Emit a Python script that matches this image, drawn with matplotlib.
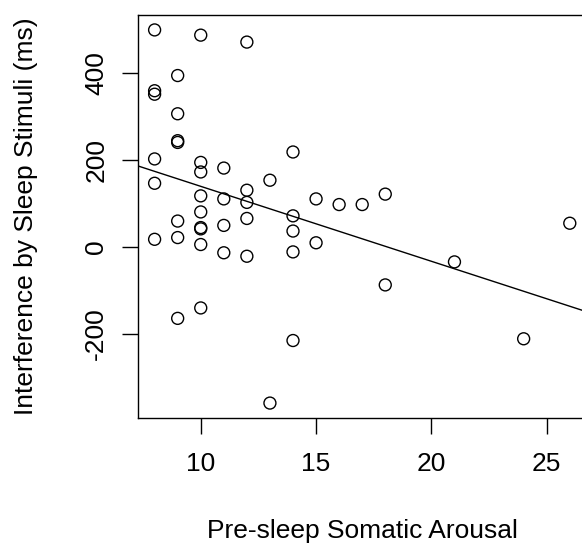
"""
Scatter of sleep-stimulus interference against pre-sleep somatic arousal,
with the least-squares line drawn across the whole plot (R abline style).
"""
import numpy as np
import matplotlib
matplotlib.use("Agg")
import matplotlib.pyplot as plt

OUTPUT = "out.png"

# one entry per participant
AROUSAL = [
    8, 8, 8, 8, 8, 8,
    9, 9, 9, 9, 9, 9, 9,
    10, 10, 10, 10, 10, 10, 10, 10, 10,
    11, 11, 11, 11,
    12, 12, 12, 12, 12,
    13, 13,
    14, 14, 14, 14, 14,
    15, 15,
    16, 17,
    18, 18,
    21, 24, 26,
]
INTERFERENCE = [
    500, 360, 352, 203, 147, 18,
    395, 307, 245, 241, 60, 22, -164,
    488, 195, 173, 118, 81, 45, 42, 6, -140,
    182, 111, 50, -13,
    472, 131, 103, 66, -21,
    154, -359,
    219, 72, 37, -11, -215,
    111, 10,
    98, 98,
    122, -87,
    -34, -211, 55,
]
X_TICKS = [10, 15, 20, 25]
Y_TICKS = [-200, 0, 200, 400]

plt.rcParams["font.family"] = ["Liberation Sans", "DejaVu Sans"]
plt.rcParams["font.size"] = 19
plt.rcParams["axes.unicode_minus"] = False

x = np.asarray(AROUSAL, dtype=float)
y = np.asarray(INTERFERENCE, dtype=float)

# R-style 4% padding of the data range
def r_range(v):
    span = v.max() - v.min()
    return v.min() - 0.04 * span, v.max() + 0.04 * span

xlim = r_range(x)
ylim = r_range(y)

fig = plt.figure(figsize=(5.82, 5.56), dpi=100)
ax = fig.add_axes([138 / 582, 1 - 418 / 556, (586.4 - 138) / 582, (418 - 15) / 556])

ax.scatter(x, y, s=74, facecolors="none", edgecolors="black", linewidths=1.0)

slope, intercept = np.polyfit(x, y, 1)
xs = np.array(xlim)
ax.plot(xs, intercept + slope * xs, color="black", lw=1.0)

ax.set_xlim(xlim)
ax.set_ylim(ylim)
ax.set_xticks(X_TICKS)
ax.set_yticks(Y_TICKS)
ax.tick_params(direction="out", length=11.5, width=1.0, colors="black")
ax.tick_params(axis="x", pad=13)
ax.tick_params(axis="y", pad=10)
plt.setp(ax.get_yticklabels(), rotation=90, va="center")
for s in ax.spines.values():
    s.set_linewidth(1.0)

ax.set_xlabel("Pre-sleep Somatic Arousal", va="center")
ax.set_ylabel("Interference by Sleep Stimuli (ms)", va="center")
ax.xaxis.set_label_coords(0.5, -(531 - 418) / 403)
ax.yaxis.set_label_coords(-(138 - 26) / 448.4, 0.5)

fig.savefig(OUTPUT, dpi=100)
